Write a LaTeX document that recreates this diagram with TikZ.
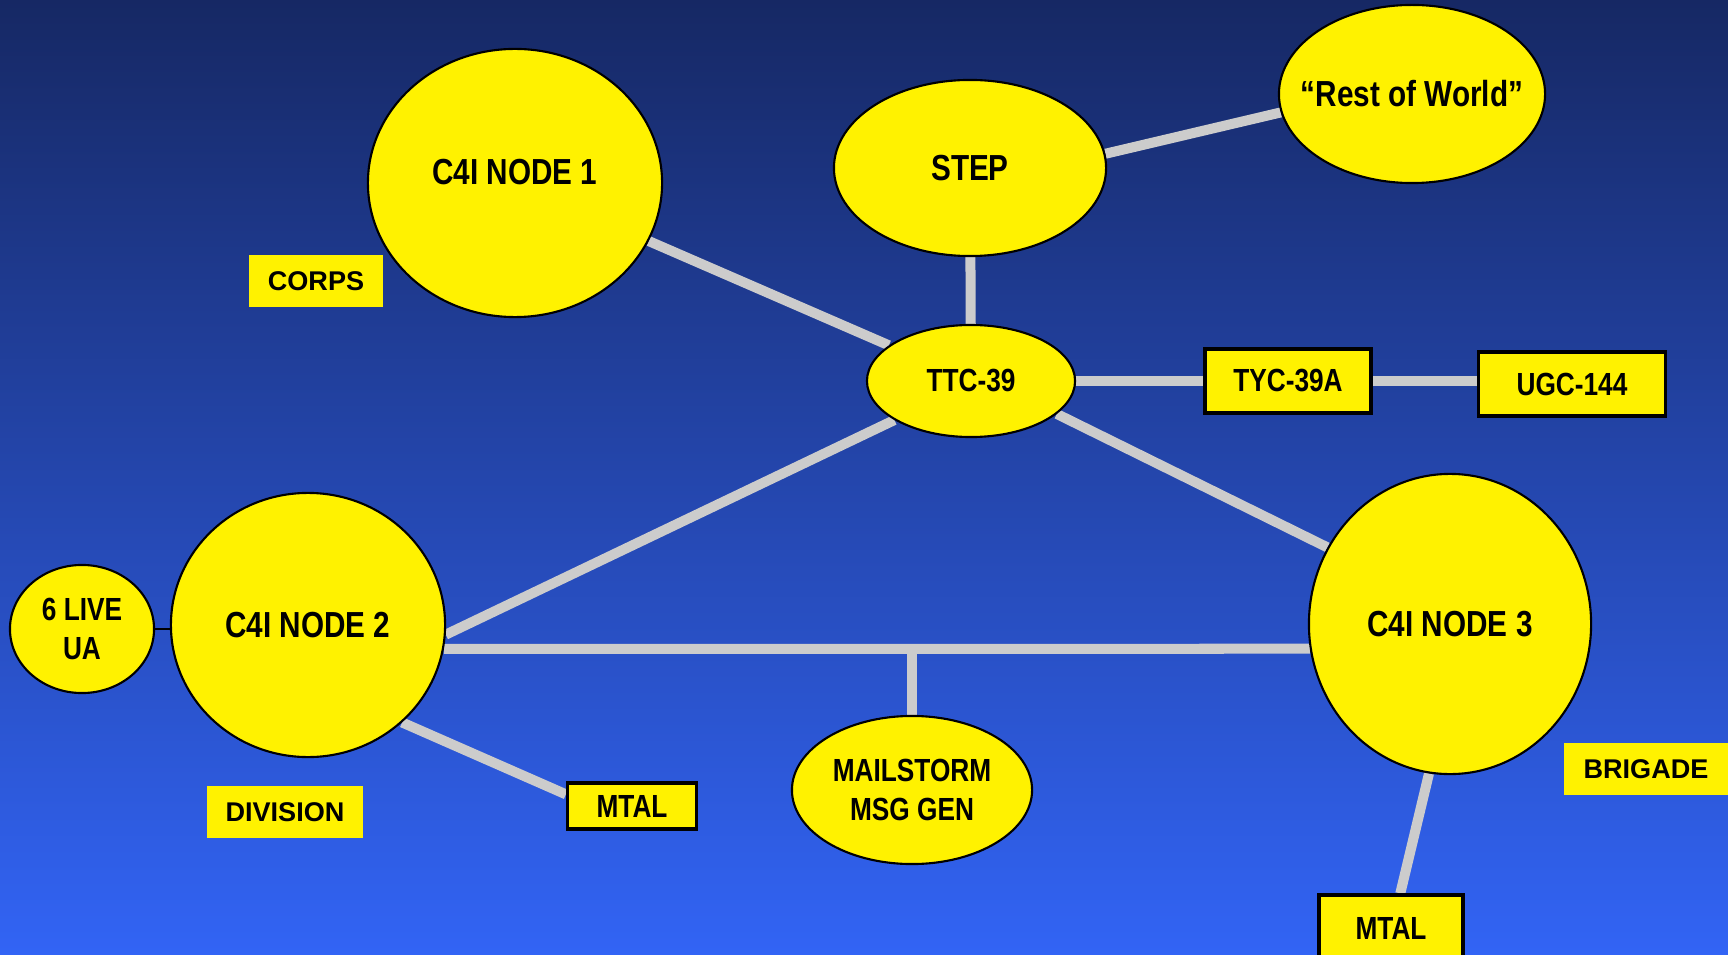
\documentclass[tikz,border=0pt]{standalone}
\usepackage{fontspec}
\usetikzlibrary{shapes.geometric}
\newfontfamily\narrowfont[FakeStretch=0.82]{Liberation Sans}
\newfontfamily\tagfont{Liberation Sans}
\definecolor{bgtop}{RGB}{22,40,100}
\definecolor{bgmid}{RGB}{36,74,190}
\definecolor{bgbot}{RGB}{50,100,245}
\definecolor{wiregray}{RGB}{204,204,204}
\pgfdeclarelayer{back}
\pgfdeclarelayer{wires}
\pgfsetlayers{back,wires,main}
\begin{document}
\begin{tikzpicture}[x=0.01cm,y=-0.01cm,
		blob/.style={ellipse,draw=black,line width=0.6pt,fill=yellow,inner sep=0pt,
			font=\narrowfont\bfseries\fontsize{10.3pt}{12pt}\selectfont},
		smallblob/.style={blob,align=center,
			font=\narrowfont\bfseries\fontsize{9.1pt}{11.2pt}\selectfont},
		unit/.style={rectangle,draw=black,line width=0.9pt,fill=yellow,inner sep=0pt,
			font=\narrowfont\bfseries\fontsize{9.1pt}{11pt}\selectfont},
		echelon/.style={rectangle,fill=yellow,inner sep=0pt,minimum height=0.52cm,
			font=\tagfont\bfseries\fontsize{7.7pt}{9pt}\selectfont},
		wire/.style={wiregray,line width=0.1cm}]
		\begin{pgfonlayer}{back}
			\shade[top color=bgtop,middle color=bgmid,bottom color=bgbot] (0,0) rectangle (1728,955);
		\end{pgfonlayer}
		\useasboundingbox (0,0) rectangle (1728,955);

		% top row
		\node[blob,minimum width=2.94cm,minimum height=2.68cm] (node1) at (515,183) {\raisebox{0.22cm}{C4I NODE 1}};
		\node[blob,minimum width=2.72cm,minimum height=1.76cm] (step) at (970,168) {STEP};
		\node[blob,minimum width=2.66cm,minimum height=1.78cm] (world) at (1412,94) {\makebox[0pt]{“Rest of World”}};
		\node[echelon,minimum width=1.34cm] (corps) at (316,281) {CORPS};

		% switch
		\node[smallblob,minimum width=2.08cm,minimum height=1.12cm] (ttc) at (971,381) {TTC-39};
		\node[unit,minimum width=1.66cm,minimum height=0.64cm] (tyc) at (1288,381) {TYC-39A};
		\node[unit,minimum width=1.87cm,minimum height=0.64cm] (ugc) at (1572,384) {UGC-144};

		% lower row
		\node[blob,minimum width=2.74cm,minimum height=2.64cm] (node2) at (308,625) {C4I NODE 2};
		\node[smallblob,minimum width=1.44cm,minimum height=1.28cm] (live) at (82,629) {6 LIVE\\UA};
		\node[echelon,minimum width=1.56cm] (division) at (285,812) {DIVISION};
		\node[unit,minimum width=1.29cm,minimum height=0.46cm] (mtalA) at (632,806) {MTAL};
		\node[smallblob,minimum width=2.40cm,minimum height=1.48cm] (mail) at (912,790) {MAILSTORM\\MSG GEN};
		\node[blob,minimum width=2.82cm,minimum height=3.00cm] (node3) at (1450,624) {C4I NODE 3};
		\node[echelon,minimum width=1.63cm] (brigade) at (1646,769) {BRIGADE};
		\node[unit,minimum width=1.44cm,minimum height=0.66cm] (mtalB) at (1391,928) {MTAL};

		\begin{pgfonlayer}{wires}
			\draw[wire] (node1) -- (ttc);
			\draw[wire] (step) -- (ttc);
			\draw[wire] (step.6) -- (world.188);
			\draw[wire] (ttc) -- (tyc);
			\draw[wire] (tyc) -- (tyc -| ugc.west);
			\draw[wire] (ttc.207) -- (node2.-4);
			\draw[wire] (ttc.-21) -- (node3.148);
			\draw[wire] (node2.-10) -- (node3.190);
			\draw[wire] (mail.north) -- (mail.north |- node2.-10);
			\draw[wire] (node2.-46) -- (mtalA.170);
			\draw[wire] (node3.-98) -- (mtalB.75);
			\draw[black,line width=0.6pt] (live.east) -- (live.east -| node2.west);
		\end{pgfonlayer}
\end{tikzpicture}
\end{document}
